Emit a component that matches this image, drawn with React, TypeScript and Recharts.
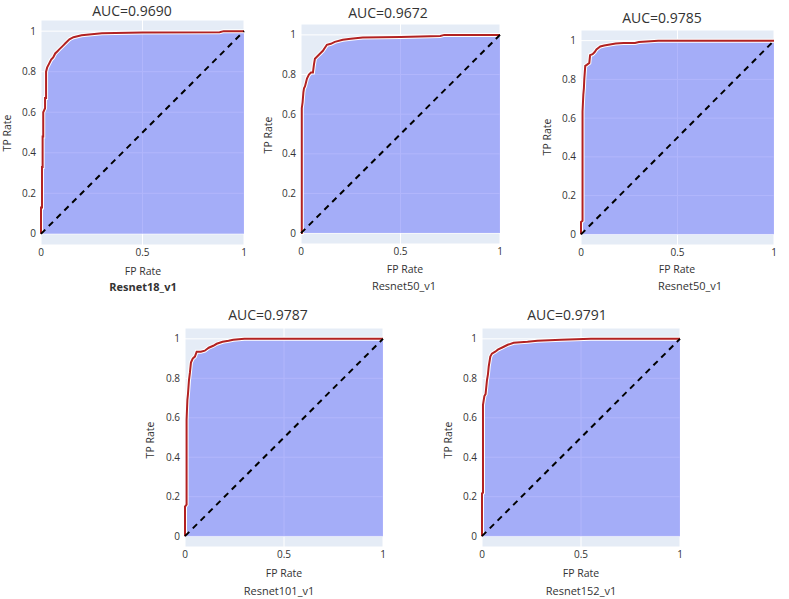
import React from 'react';
import { ComposedChart, Area, Line, XAxis, YAxis, CartesianGrid, ReferenceLine } from 'recharts';

// ROC data per model (FP rate, TP rate)
const fpr18 = [0, 0, 0.005, 0.005, 0.008, 0.008, 0.011, 0.011, 0.02, 0.02, 0.025, 0.025, 0.03, 0.04, 0.05, 0.06, 0.07, 0.08, 0.09, 0.1, 0.11, 0.12, 0.14, 0.16, 0.18, 0.2, 0.25, 0.3, 0.5, 0.88, 0.9, 1];
const tpr18 = [0, 0.13, 0.13, 0.33, 0.33, 0.48, 0.48, 0.6, 0.62, 0.67, 0.67, 0.8, 0.82, 0.84, 0.86, 0.87, 0.89, 0.9, 0.91, 0.92, 0.93, 0.94, 0.96, 0.97, 0.975, 0.98, 0.985, 0.99, 0.993, 0.995, 1, 1];

const fpr50a = [0, 0.004, 0.004, 0.008, 0.012, 0.015, 0.02, 0.025, 0.03, 0.04, 0.05, 0.06, 0.065, 0.07, 0.08, 0.1, 0.11, 0.13, 0.15, 0.17, 0.21, 0.25, 0.31, 0.5, 0.7, 0.72, 1];
const tpr50a = [0, 0, 0.63, 0.66, 0.71, 0.73, 0.74, 0.76, 0.78, 0.8, 0.81, 0.81, 0.85, 0.88, 0.89, 0.91, 0.92, 0.95, 0.955, 0.965, 0.975, 0.98, 0.987, 0.99, 0.995, 1, 1];

const fpr50b = [0, 0, 0.008, 0.008, 0.012, 0.015, 0.017, 0.022, 0.03, 0.043, 0.047, 0.06, 0.07, 0.08, 0.1, 0.12, 0.15, 0.18, 0.22, 0.28, 0.3, 0.4, 1];
const tpr50b = [0, 0.064, 0.07, 0.634, 0.72, 0.755, 0.8, 0.87, 0.875, 0.885, 0.925, 0.93, 0.94, 0.955, 0.97, 0.975, 0.98, 0.985, 0.988, 0.988, 0.993, 1, 1];

const fpr101 = [0, 0, 0.008, 0.008, 0.012, 0.015, 0.02, 0.025, 0.03, 0.039, 0.05, 0.059, 0.08, 0.1, 0.12, 0.143, 0.16, 0.19, 0.22, 0.244, 0.3, 1];
const tpr101 = [0, 0.15, 0.16, 0.59, 0.69, 0.72, 0.79, 0.83, 0.88, 0.9, 0.91, 0.935, 0.935, 0.94, 0.955, 0.965, 0.975, 0.985, 0.99, 0.995, 1, 1];

const fpr152 = [0, 0, 0.005, 0.005, 0.012, 0.018, 0.025, 0.03, 0.034, 0.042, 0.05, 0.067, 0.08, 0.11, 0.13, 0.16, 0.23, 0.28, 0.4, 0.55, 1];
const tpr152 = [0, 0.217, 0.22, 0.665, 0.71, 0.72, 0.79, 0.82, 0.86, 0.91, 0.925, 0.935, 0.945, 0.96, 0.97, 0.98, 0.985, 0.99, 0.995, 1, 1];

const aucTitles = ['AUC=0.9690', 'AUC=0.9672', 'AUC=0.9785', 'AUC=0.9787', 'AUC=0.9791'];
const modelNames = ['Resnet18_v1', 'Resnet50_v1', 'Resnet50_v1', 'Resnet101_v1', 'Resnet152_v1'];
const xTicks = [0, 0.5, 1];
const yTicks = [0, 0.2, 0.4, 0.6, 0.8, 1];
const xAxisTitle = 'FP Rate';
const yAxisTitle = 'TP Rate';

const series = [
  [fpr18, tpr18],
  [fpr50a, tpr50a],
  [fpr50b, tpr50b],
  [fpr101, tpr101],
  [fpr152, tpr152],
];

const layout = [
  { left: 41, top: 20, w: 203, h: 225, titleX: 132, titleY: 11, fpX: 143, fpY: 271, nameX: 143, nameY: 287, tpX: 7, tpY: 133, bold: true },
  { left: 301, top: 24, w: 199, h: 220, titleX: 388, titleY: 13, fpX: 405, fpY: 269, nameX: 404, nameY: 286, tpX: 268, tpY: 135, bold: false },
  { left: 581, top: 30, w: 193, h: 215, titleX: 662, titleY: 18, fpX: 677, fpY: 269, nameX: 690, nameY: 286, tpX: 547, tpY: 137, bold: false },
  { left: 185, top: 328, w: 198, h: 219, titleX: 268, titleY: 315, fpX: 284, fpY: 573, nameX: 279, nameY: 591, tpX: 150, tpY: 440, bold: false },
  { left: 482, top: 328, w: 198, h: 219, titleX: 567, titleY: 315, fpX: 581, fpY: 573, nameX: 581, nameY: 591, tpX: 448, tpY: 440, bold: false },
];

const FONT = '"Open Sans", "Noto Sans", sans-serif';
const TEXT = '#333';

function Txt({ x, y, children, size, bold, rotate }: any) {
  return (
    <div
      style={{
        position: 'absolute',
        left: x,
        top: y,
        transform: `translate(-50%, -50%)${rotate ? ' rotate(-90deg)' : ''}`,
        whiteSpace: 'nowrap',
        fontFamily: FONT,
        fontSize: size,
        fontWeight: bold ? 700 : 400,
        color: TEXT,
        lineHeight: 1.2,
      }}
    >
      {children}
    </div>
  );
}

const Y_AXIS_W = 30;
const X_AXIS_H = 20;

function Panel({ idx }: { idx: number }) {
  const L = layout[idx];
  const [fpr, tpr] = series[idx];
  const data = fpr.map((x, i) => ({ x, y: tpr[i] }));
  return (
    <>
      <div style={{ position: 'absolute', left: L.left - Y_AXIS_W, top: L.top }}>
        <ComposedChart
          width={L.w + Y_AXIS_W + 10}
          height={L.h + X_AXIS_H}
          data={data}
          margin={{ top: 0, right: 10, bottom: 0, left: 0 }}
        >
          <CartesianGrid fill="#e5ecf6" fillOpacity={1} stroke="#ffffff" strokeWidth={1} />
          <XAxis
            dataKey="x"
            type="number"
            domain={[0, 1]}
            ticks={xTicks}
            interval={0}
            tickLine={false}
            axisLine={false}
            tickSize={0}
            tickMargin={4}
            height={X_AXIS_H}
            tick={{ fontSize: 10, fill: TEXT, fontFamily: FONT }}
          />
          <YAxis
            type="number"
            domain={[-0.055, 1.055]}
            ticks={yTicks}
            interval={0}
            tickLine={false}
            axisLine={false}
            tickSize={0}
            tickMargin={5}
            width={Y_AXIS_W}
            tick={{ fontSize: 10, fill: TEXT, fontFamily: FONT }}
          />
          <Area
            dataKey="y"
            type="linear"
            stroke="#ffffff"
            strokeWidth={4}
            fill="#636efa"
            fillOpacity={0.5}
            dot={false}
            activeDot={false}
            isAnimationActive={false}
          />
          <Line
            dataKey="y"
            type="linear"
            stroke="#b22222"
            strokeWidth={2}
            dot={false}
            activeDot={false}
            isAnimationActive={false}
          />
          <ReferenceLine
            segment={[{ x: 0, y: 0 }, { x: 1, y: 1 }]}
            stroke="#000"
            strokeWidth={2}
            strokeDasharray="6 5"
            ifOverflow="visible"
          />
        </ComposedChart>
      </div>
      <Txt x={L.titleX} y={L.titleY} size={14}>{aucTitles[idx]}</Txt>
      <Txt x={L.fpX} y={L.fpY} size={10.5}>{xAxisTitle}</Txt>
      <Txt x={L.nameX} y={L.nameY} size={11} bold={L.bold}>{modelNames[idx]}</Txt>
      <Txt x={L.tpX} y={L.tpY} size={10.5} rotate>{yAxisTitle}</Txt>
    </>
  );
}

export default function App() {
  return (
    <div style={{ position: 'absolute', left: 0, top: 0, width: 789, height: 599, background: '#fff', overflow: 'hidden' }}>
      {layout.map((_, i) => (
        <Panel key={i} idx={i} />
      ))}
    </div>
  );
}
